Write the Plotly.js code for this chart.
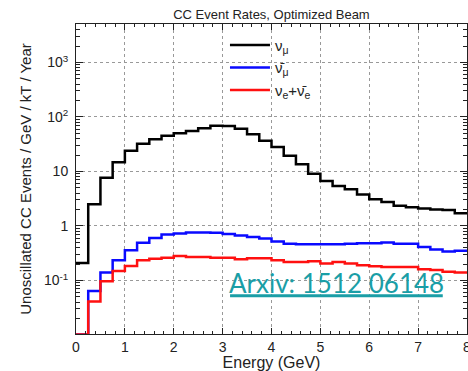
<!DOCTYPE html>
<html>
<head>
<meta charset="utf-8">
<script src="https://cdn.plot.ly/plotly-3.0.1.min.js"></script>
<style>html,body{margin:0;padding:0;background:#fff;}#chart{width:468px;height:371px;}</style>
</head>
<body>
<div id="chart"></div>
<script>
// Bin edges (GeV)
const binEdges = [0,0.25,0.5,0.75,1,1.25,1.5,1.75,2,2.25,2.5,2.75,3,3.25,3.5,3.75,4,4.25,4.5,4.75,5,5.25,5.5,5.75,6,6.25,6.5,6.75,7,7.25,7.5,7.75,8];
// Event rates per bin
const numu = [0.21,2.5,7.7,14.7,24.1,32.4,38.9,45.4,50.2,55.3,62,69.3,68.3,61,48,36.8,28.2,19.5,13.6,9.1,6.7,5.4,4.7,3.8,3.1,2.75,2.36,2.2,2.1,2.0,1.97,1.71];
const numubar = [0.0102,0.064,0.14,0.234,0.36,0.49,0.60,0.70,0.73,0.76,0.76,0.75,0.71,0.67,0.63,0.59,0.52,0.47,0.46,0.46,0.46,0.46,0.47,0.48,0.48,0.50,0.47,0.47,0.41,0.37,0.34,0.35];
const nue = [0.0102,0.041,0.097,0.15,0.185,0.234,0.25,0.26,0.28,0.27,0.27,0.26,0.26,0.245,0.255,0.255,0.234,0.218,0.218,0.225,0.204,0.218,0.204,0.19,0.183,0.177,0.177,0.177,0.16,0.155,0.145,0.14];
const seriesNames = ['ν<sub>μ</sub>', 'ν̄<sub>μ</sub>', 'ν<sub>e</sub>+ν̄<sub>e</sub>'];
const yTickVals = [0.1, 1, 10, 100, 1000];
const yTickText = ['10<sup>-1</sup>', '1', '10', '10<sup>2</sup>', '10<sup>3</sup>'];
const xTickVals = [0,1,2,3,4,5,6,7,8];

function stepY(v){ return v.concat([v[v.length-1]]); }
const colors = ['#000000', '#0a0aff', '#ff1010'];
const data = [numu, numubar, nue].map((v,i)=>({
  type:'scatter', mode:'lines', x: binEdges, y: stepY(v), name: seriesNames[i],
  line:{shape:'hv', color: colors[i], width:2.5}, hoverinfo:'skip'
}));

const fam = 'Liberation Sans, Arial, sans-serif';
const axisFont = {family:fam, size:14, color:'#222'};
const layout = {
  width:468, height:371,
  margin:{l:76, r:1, t:24, b:37},
  paper_bgcolor:'#fff', plot_bgcolor:'#fff',
  font: axisFont,
  title:{text:'CC Event Rates, Optimized Beam', font:{family:fam, size:13, color:'#222'}, x:0.58, xanchor:'center', y:0.962, yref:'container', yanchor:'middle'},
  showlegend:true,
  legend:{x:0.381, y:0.985, xanchor:'left', yanchor:'top', bgcolor:'rgba(0,0,0,0)', font:{family:fam, size:15, color:'#222'}, tracegroupgap:0, itemwidth:40},
  xaxis:{
    range:[0,8], tickmode:'array', tickvals:xTickVals, ticks:'inside', ticklen:6, tickcolor:'#222',
    showline:true, linecolor:'#222', linewidth:1, mirror:'allticks', zeroline:false,
    showgrid:true, gridcolor:'#999', griddash:'dot', gridwidth:1,
    minor:{ticks:'inside', ticklen:3, dtick:0.2, tick0:0, showgrid:false, tickcolor:'#222'},
    tickfont:axisFont, ticklabeloverflow:'allow',
    title:{text:'Energy (GeV)', font:{family:fam, size:16, color:'#222'}, standoff:5}
  },
  yaxis:{
    type:'log', range:[-1.982, 3.706], tickmode:'array', tickvals:yTickVals, ticktext:yTickText,
    ticks:'inside', ticklen:7, tickcolor:'#222',
    showline:true, linecolor:'#222', linewidth:1, mirror:'allticks', zeroline:false,
    showgrid:true, gridcolor:'#999', griddash:'dot', gridwidth:1,
    minor:{ticks:'inside', ticklen:4, dtick:'D1', showgrid:false, tickcolor:'#222'},
    tickfont:axisFont, ticklabelstandoff:4,
    title:{text:'Unoscillated CC Events / GeV / kT / Year', font:{family:fam, size:15, color:'#222'}, standoff:8}
  },
  annotations:[{
    xref:'paper', yref:'paper', x:0.665, y:0.165, xanchor:'center', yanchor:'middle', showarrow:false,
    text:'Arxiv: 1512 06148', font:{family:'Lato, sans-serif', size:26, color:'#1a9ea6'}
  }],
  shapes:[{
    type:'line', xref:'paper', yref:'paper', x0:0.394, x1:0.938, y0:0.1235, y1:0.1235,
    line:{color:'#1a9ea6', width:3}
  }]
};
Plotly.newPlot('chart', data, layout, {displayModeBar:false, staticPlot:true});
</script>
</body>
</html>
